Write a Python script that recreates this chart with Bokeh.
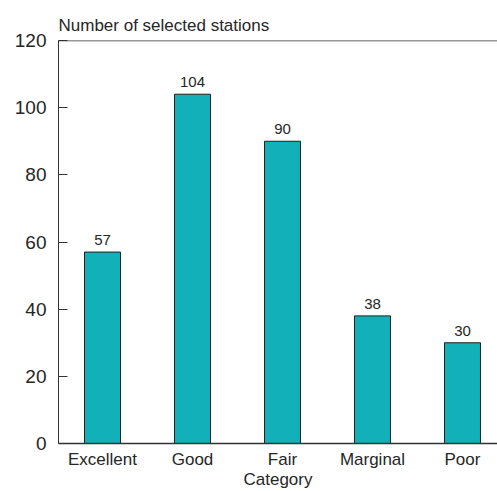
from bokeh.plotting import figure
from bokeh.models import Range1d, FixedTicker, Span, ColumnDataSource
from bokeh.embed import file_html
from bokeh.resources import INLINE

categories = ["Excellent", "Good", "Fair", "Marginal", "Poor"]
counts = [57, 104, 90, 38, 30]
y_ticks = [0, 20, 40, 60, 80, 100, 120]

xs = list(range(len(categories)))
src = ColumnDataSource(dict(x=xs, top=counts, label=[str(c) for c in counts]))

FONT = "Liberation Sans"
TXT = "#262626"

p = figure(width=497, height=491, output_backend="svg", toolbar_location=None,
           x_range=Range1d(-0.489, 4.389), y_range=Range1d(0, 120),
           min_border_left=58, min_border_right=0, min_border_top=40, min_border_bottom=47)

p.vbar(x="x", top="top", width=0.4, source=src, fill_color="#12B0B9",
       line_color="#1e1e1e", line_width=1)
p.text(x="x", y="top", text="label", source=src, text_align="center",
       text_baseline="bottom", y_offset=-7, text_font_size="15px",
       text_color=TXT, text_font={"value": FONT})

p.title.text = "Number of selected stations"
p.title.align = "left"
p.title.offset = 0
p.title.text_font = FONT
p.title.text_font_size = "17px"
p.title.text_font_style = "normal"
p.title.text_color = TXT
p.title.standoff = 11

p.grid.visible = False
p.outline_line_color = None
p.add_layout(Span(location=120, dimension="width", line_color="#333333", line_width=1.5))

ya = p.yaxis[0]
ya.ticker = FixedTicker(ticks=y_ticks)
ya.major_tick_in = 9
ya.major_tick_out = 0
ya.major_tick_line_width = 1.2
ya.minor_tick_line_color = None
ya.axis_line_color = "#333333"
ya.major_tick_line_color = "#333333"
ya.major_label_text_font = FONT
ya.major_label_text_font_size = "19px"
ya.major_label_text_color = TXT
ya.major_label_standoff = 12

xa = p.xaxis[0]
xa.ticker = FixedTicker(ticks=xs)
xa.major_label_overrides = {i: c for i, c in enumerate(categories)}
xa.major_tick_line_color = None
xa.minor_tick_line_color = None
xa.axis_line_color = "#333333"
xa.axis_line_width = 1.5
xa.major_label_text_font = FONT
xa.major_label_text_font_size = "17px"
xa.major_label_text_color = TXT
xa.major_label_standoff = 0
xa.axis_label = "Category"
xa.axis_label_text_font = FONT
xa.axis_label_text_font_size = "17px"
xa.axis_label_text_font_style = "normal"
xa.axis_label_text_color = TXT
xa.axis_label_standoff = -2

open("out.html", "w").write(file_html(p, INLINE))
